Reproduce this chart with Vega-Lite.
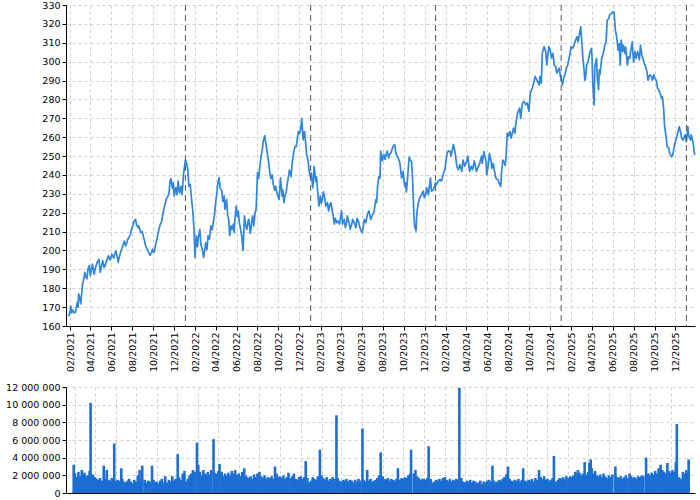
{
"$schema":"https://vega.github.io/schema/vega-lite/v6.json",
"padding":{"left":5,"top":0,"right":5,"bottom":5},
"config":{
 "locale":{"number":{"decimal":",","thousands":" ","grouping":[3],"currency":["",""]}},
 "font":"DejaVu Sans",
 "view":{"stroke":null},
 "axis":{"labelFont":"DejaVu Sans","labelFontSize":9.5,"labelColor":"#000","domainColor":"#000","tickColor":"#000","gridColor":"#cfcfcf","gridDash":[3,3],"tickSize":4,"labelPadding":2,"title":null,"labelFlush":false,"labelOverlap":false,"labelBound":false}
},
"datasets":{
"years":[{"t":"2022-01-03"},{"t":"2023-01-03"},{"t":"2024-01-02"},{"t":"2025-01-02"},{"t":"2026-01-02"}],
"price":[
{"t":"2021-01-28","p":166.5},{"t":"2021-01-29","p":165.5},{"t":"2021-02-01","p":168},{"t":"2021-02-03","p":170.5},{"t":"2021-02-05","p":167},{"t":"2021-02-09","p":168.5},{"t":"2021-02-12","p":167},{"t":"2021-02-17","p":167.4},{"t":"2021-02-22","p":172.6},{"t":"2021-02-24","p":170},{"t":"2021-02-26","p":177},{"t":"2021-03-02","p":174},{"t":"2021-03-04","p":171.7},{"t":"2021-03-09","p":182},{"t":"2021-03-12","p":184},{"t":"2021-03-16","p":188.4},{"t":"2021-03-19","p":186},{"t":"2021-03-22","p":185},{"t":"2021-03-25","p":190},{"t":"2021-03-29","p":192},{"t":"2021-04-01","p":186.7},{"t":"2021-04-07","p":192.8},{"t":"2021-04-12","p":187.5},{"t":"2021-04-16","p":191},{"t":"2021-04-21","p":193.7},{"t":"2021-04-26","p":195.4},{"t":"2021-04-30","p":188.4},{"t":"2021-05-04","p":192},{"t":"2021-05-07","p":194.6},{"t":"2021-05-11","p":191},{"t":"2021-05-14","p":192},{"t":"2021-05-19","p":195},{"t":"2021-05-24","p":197.2},{"t":"2021-05-28","p":195},{"t":"2021-06-03","p":198},{"t":"2021-06-08","p":196},{"t":"2021-06-14","p":199.8},{"t":"2021-06-18","p":197},{"t":"2021-06-21","p":193.7},{"t":"2021-06-25","p":197},{"t":"2021-06-28","p":199},{"t":"2021-07-02","p":201},{"t":"2021-07-06","p":203.3},{"t":"2021-07-09","p":205},{"t":"2021-07-13","p":202.4},{"t":"2021-07-16","p":204},{"t":"2021-07-19","p":206},{"t":"2021-07-23","p":207},{"t":"2021-07-27","p":208.6},{"t":"2021-07-30","p":211},{"t":"2021-08-04","p":213.9},{"t":"2021-08-06","p":215.5},{"t":"2021-08-11","p":216.5},{"t":"2021-08-13","p":214},{"t":"2021-08-18","p":212.1},{"t":"2021-08-20","p":213},{"t":"2021-08-26","p":209.5},{"t":"2021-08-30","p":210},{"t":"2021-09-02","p":207.8},{"t":"2021-09-06","p":205},{"t":"2021-09-09","p":202.4},{"t":"2021-09-13","p":201},{"t":"2021-09-16","p":199.8},{"t":"2021-09-20","p":198},{"t":"2021-09-22","p":197.5},{"t":"2021-09-27","p":199},{"t":"2021-09-29","p":200.7},{"t":"2021-10-04","p":199},{"t":"2021-10-06","p":200.7},{"t":"2021-10-08","p":203},{"t":"2021-10-12","p":206},{"t":"2021-10-15","p":209},{"t":"2021-10-19","p":212.1},{"t":"2021-10-22","p":214},{"t":"2021-10-26","p":215.6},{"t":"2021-10-28","p":218},{"t":"2021-11-01","p":221.8},{"t":"2021-11-04","p":224},{"t":"2021-11-08","p":227},{"t":"2021-11-11","p":228},{"t":"2021-11-15","p":229.6},{"t":"2021-11-17","p":232},{"t":"2021-11-19","p":236.7},{"t":"2021-11-22","p":238},{"t":"2021-11-26","p":233},{"t":"2021-11-29","p":235.8},{"t":"2021-12-01","p":228.8},{"t":"2021-12-03","p":231},{"t":"2021-12-06","p":233.2},{"t":"2021-12-09","p":229.6},{"t":"2021-12-13","p":236.7},{"t":"2021-12-15","p":232},{"t":"2021-12-17","p":230.5},{"t":"2021-12-21","p":234},{"t":"2021-12-24","p":229.6},{"t":"2021-12-29","p":241.2},
{"t":"2022-01-03","p":247.9},{"t":"2022-01-06","p":246.5},{"t":"2022-01-10","p":243},{"t":"2022-01-13","p":234},{"t":"2022-01-17","p":235},{"t":"2022-01-21","p":227},{"t":"2022-01-25","p":220},{"t":"2022-01-28","p":211.2},{"t":"2022-01-31","p":196.3},{"t":"2022-02-02","p":203},{"t":"2022-02-04","p":207.8},{"t":"2022-02-07","p":202},{"t":"2022-02-09","p":206},{"t":"2022-02-14","p":211.2},{"t":"2022-02-17","p":203.3},{"t":"2022-02-22","p":200},{"t":"2022-02-25","p":196.3},{"t":"2022-03-01","p":201},{"t":"2022-03-03","p":204.2},{"t":"2022-03-07","p":200.5},{"t":"2022-03-10","p":207.8},{"t":"2022-03-14","p":206},{"t":"2022-03-18","p":213},{"t":"2022-03-22","p":211},{"t":"2022-03-25","p":214.7},{"t":"2022-03-29","p":219},{"t":"2022-04-01","p":225.3},{"t":"2022-04-05","p":231},{"t":"2022-04-07","p":235},{"t":"2022-04-11","p":238.6},{"t":"2022-04-14","p":233},{"t":"2022-04-19","p":231.6},{"t":"2022-04-22","p":226},{"t":"2022-04-26","p":228.8},{"t":"2022-04-28","p":221.8},{"t":"2022-05-03","p":227},{"t":"2022-05-06","p":219},{"t":"2022-05-09","p":216.5},{"t":"2022-05-12","p":207.8},{"t":"2022-05-16","p":213},{"t":"2022-05-19","p":211.2},{"t":"2022-05-23","p":214},{"t":"2022-05-25","p":209.5},{"t":"2022-05-27","p":216},{"t":"2022-05-31","p":223.5},{"t":"2022-06-03","p":218},{"t":"2022-06-06","p":220.9},{"t":"2022-06-09","p":215},{"t":"2022-06-13","p":211.2},{"t":"2022-06-16","p":207.8},{"t":"2022-06-20","p":200},{"t":"2022-06-22","p":209},{"t":"2022-06-24","p":218.3},{"t":"2022-06-28","p":213},{"t":"2022-07-01","p":211.2},{"t":"2022-07-05","p":216},{"t":"2022-07-07","p":216.5},{"t":"2022-07-11","p":209},{"t":"2022-07-13","p":211.2},{"t":"2022-07-15","p":215},{"t":"2022-07-18","p":218.3},{"t":"2022-07-21","p":213},{"t":"2022-07-25","p":220},{"t":"2022-07-28","p":221.8},{"t":"2022-08-01","p":241.2},{"t":"2022-08-04","p":238},{"t":"2022-08-08","p":244.7},{"t":"2022-08-11","p":249},{"t":"2022-08-15","p":253.5},{"t":"2022-08-18","p":258},{"t":"2022-08-22","p":260.7},{"t":"2022-08-24","p":258},{"t":"2022-08-26","p":256},{"t":"2022-08-30","p":251},{"t":"2022-09-02","p":247.2},{"t":"2022-09-06","p":241.2},{"t":"2022-09-09","p":238},{"t":"2022-09-13","p":240},{"t":"2022-09-16","p":235},{"t":"2022-09-20","p":232},{"t":"2022-09-23","p":234},{"t":"2022-09-28","p":229.6},{"t":"2022-10-03","p":227},{"t":"2022-10-05","p":232},{"t":"2022-10-07","p":238.4},{"t":"2022-10-12","p":228.8},{"t":"2022-10-14","p":232},{"t":"2022-10-17","p":225.3},{"t":"2022-10-20","p":229},{"t":"2022-10-24","p":231.4},{"t":"2022-10-27","p":235.6},{"t":"2022-10-31","p":240},{"t":"2022-11-02","p":242.6},{"t":"2022-11-07","p":239.1},{"t":"2022-11-10","p":246},{"t":"2022-11-14","p":251.4},{"t":"2022-11-18","p":255},{"t":"2022-11-22","p":255},{"t":"2022-11-25","p":259},{"t":"2022-11-28","p":263},{"t":"2022-12-02","p":262},{"t":"2022-12-06","p":266},{"t":"2022-12-08","p":270},{"t":"2022-12-12","p":258.6},{"t":"2022-12-14","p":262},{"t":"2022-12-16","p":263},{"t":"2022-12-20","p":255.8},{"t":"2022-12-22","p":251},{"t":"2022-12-27","p":247},{"t":"2022-12-29","p":242.6},
{"t":"2023-01-03","p":238.4},{"t":"2023-01-05","p":241},{"t":"2023-01-09","p":233.2},{"t":"2023-01-11","p":237},{"t":"2023-01-13","p":244.4},{"t":"2023-01-18","p":236.5},{"t":"2023-01-20","p":239},{"t":"2023-01-23","p":232.3},{"t":"2023-01-27","p":223.5},{"t":"2023-01-31","p":228.8},{"t":"2023-02-03","p":225},{"t":"2023-02-06","p":227},{"t":"2023-02-09","p":231},{"t":"2023-02-13","p":227.9},{"t":"2023-02-16","p":223.5},{"t":"2023-02-21","p":225.3},{"t":"2023-02-24","p":221},{"t":"2023-02-28","p":224},{"t":"2023-03-03","p":225.3},{"t":"2023-03-08","p":220},{"t":"2023-03-13","p":213.9},{"t":"2023-03-16","p":217},{"t":"2023-03-20","p":214.7},{"t":"2023-03-23","p":215.6},{"t":"2023-03-28","p":213.9},{"t":"2023-04-03","p":221},{"t":"2023-04-06","p":213.9},{"t":"2023-04-11","p":216.5},{"t":"2023-04-14","p":212.1},{"t":"2023-04-18","p":215},{"t":"2023-04-20","p":218.3},{"t":"2023-04-25","p":214.7},{"t":"2023-04-28","p":211.2},{"t":"2023-05-03","p":214},{"t":"2023-05-05","p":216.5},{"t":"2023-05-10","p":214.7},{"t":"2023-05-15","p":212.1},{"t":"2023-05-18","p":217},{"t":"2023-05-22","p":215.6},{"t":"2023-05-25","p":213},{"t":"2023-05-30","p":210.4},{"t":"2023-06-02","p":209.5},{"t":"2023-06-06","p":213},{"t":"2023-06-08","p":216.5},{"t":"2023-06-13","p":214.7},{"t":"2023-06-16","p":218},{"t":"2023-06-19","p":220},{"t":"2023-06-22","p":221},{"t":"2023-06-27","p":216.5},{"t":"2023-07-03","p":219.2},{"t":"2023-07-07","p":221},{"t":"2023-07-12","p":227},{"t":"2023-07-14","p":225.3},{"t":"2023-07-17","p":234},{"t":"2023-07-19","p":236.7},{"t":"2023-07-21","p":239.3},{"t":"2023-07-24","p":238.4},{"t":"2023-07-26","p":252.6},{"t":"2023-07-31","p":247.4},{"t":"2023-08-04","p":250.9},{"t":"2023-08-08","p":248.2},{"t":"2023-08-11","p":251},{"t":"2023-08-14","p":252.6},{"t":"2023-08-18","p":249},{"t":"2023-08-21","p":250.9},{"t":"2023-08-25","p":251.8},{"t":"2023-08-31","p":255.1},{"t":"2023-09-05","p":256},{"t":"2023-09-08","p":252},{"t":"2023-09-11","p":250},{"t":"2023-09-15","p":249.1},{"t":"2023-09-20","p":246.3},{"t":"2023-09-22","p":243},{"t":"2023-09-25","p":238.4},{"t":"2023-09-29","p":241.9},{"t":"2023-10-04","p":234},{"t":"2023-10-06","p":236},{"t":"2023-10-09","p":231},{"t":"2023-10-11","p":235},{"t":"2023-10-13","p":240},{"t":"2023-10-17","p":249.5},{"t":"2023-10-20","p":248},{"t":"2023-10-24","p":247},{"t":"2023-10-27","p":238},{"t":"2023-10-31","p":218.2},{"t":"2023-11-02","p":213},{"t":"2023-11-06","p":210.4},{"t":"2023-11-08","p":218.2},{"t":"2023-11-10","p":222},{"t":"2023-11-13","p":225.3},{"t":"2023-11-17","p":227.9},{"t":"2023-11-22","p":229.6},{"t":"2023-11-27","p":231.4},{"t":"2023-11-30","p":228},{"t":"2023-12-04","p":229.6},{"t":"2023-12-07","p":233.2},{"t":"2023-12-12","p":229.6},{"t":"2023-12-15","p":234},{"t":"2023-12-18","p":238.4},{"t":"2023-12-21","p":231.4},{"t":"2023-12-27","p":232.3},
{"t":"2024-01-02","p":235.8},{"t":"2024-01-05","p":234.9},{"t":"2024-01-10","p":236.7},{"t":"2024-01-15","p":237.5},{"t":"2024-01-19","p":236.7},{"t":"2024-01-24","p":240.2},{"t":"2024-01-29","p":242.8},{"t":"2024-02-01","p":247},{"t":"2024-02-05","p":251.8},{"t":"2024-02-08","p":252.6},{"t":"2024-02-13","p":252.6},{"t":"2024-02-16","p":250},{"t":"2024-02-20","p":253.5},{"t":"2024-02-23","p":256.1},{"t":"2024-02-28","p":251.8},{"t":"2024-03-04","p":244.6},{"t":"2024-03-08","p":242.8},{"t":"2024-03-13","p":245.4},{"t":"2024-03-18","p":241.9},{"t":"2024-03-22","p":247.9},{"t":"2024-03-27","p":244.6},{"t":"2024-04-02","p":247.4},{"t":"2024-04-05","p":250},{"t":"2024-04-10","p":241.9},{"t":"2024-04-15","p":244.6},{"t":"2024-04-19","p":242.8},{"t":"2024-04-24","p":247.4},{"t":"2024-04-30","p":241.9},{"t":"2024-05-06","p":244.6},{"t":"2024-05-10","p":246.3},{"t":"2024-05-15","p":250},{"t":"2024-05-17","p":246.1},{"t":"2024-05-22","p":252.3},{"t":"2024-05-24","p":250},{"t":"2024-05-28","p":247.9},{"t":"2024-05-30","p":240},{"t":"2024-06-03","p":244.4},{"t":"2024-06-07","p":251.4},{"t":"2024-06-12","p":247},{"t":"2024-06-14","p":243.5},{"t":"2024-06-18","p":246.1},{"t":"2024-06-21","p":242.6},{"t":"2024-06-26","p":238.2},{"t":"2024-07-02","p":237.4},{"t":"2024-07-05","p":235.6},{"t":"2024-07-10","p":233.9},{"t":"2024-07-12","p":240.9},{"t":"2024-07-16","p":247.9},{"t":"2024-07-19","p":247},{"t":"2024-07-23","p":245},{"t":"2024-07-25","p":248.8},{"t":"2024-07-29","p":262.1},{"t":"2024-08-01","p":260.4},{"t":"2024-08-06","p":263},{"t":"2024-08-09","p":259.5},{"t":"2024-08-14","p":263},{"t":"2024-08-16","p":264.8},{"t":"2024-08-20","p":262},{"t":"2024-08-23","p":267.4},{"t":"2024-08-28","p":272.8},{"t":"2024-09-03","p":275.4},{"t":"2024-09-06","p":270},{"t":"2024-09-11","p":278.1},{"t":"2024-09-16","p":279},{"t":"2024-09-20","p":277.2},{"t":"2024-09-25","p":278.1},{"t":"2024-09-30","p":273.7},{"t":"2024-10-04","p":283.4},{"t":"2024-10-10","p":286},{"t":"2024-10-15","p":289.5},{"t":"2024-10-18","p":292.2},{"t":"2024-10-23","p":290.4},{"t":"2024-10-30","p":287.7},{"t":"2024-11-01","p":292.2},{"t":"2024-11-05","p":288.6},{"t":"2024-11-08","p":304.4},{"t":"2024-11-13","p":308},{"t":"2024-11-18","p":305.3},{"t":"2024-11-21","p":298.2},{"t":"2024-11-27","p":308},{"t":"2024-12-02","p":305.3},{"t":"2024-12-05","p":301.8},{"t":"2024-12-09","p":304.4},{"t":"2024-12-13","p":298.2},{"t":"2024-12-17","p":297.4},{"t":"2024-12-20","p":293.9},{"t":"2024-12-27","p":296.5},{"t":"2024-12-31","p":292.2},
{"t":"2025-01-06","p":287.7},{"t":"2025-01-09","p":291.2},{"t":"2025-01-13","p":293},{"t":"2025-01-17","p":296.5},{"t":"2025-01-21","p":298.2},{"t":"2025-01-24","p":300.9},{"t":"2025-01-28","p":304.4},{"t":"2025-01-31","p":308},{"t":"2025-02-05","p":307.1},{"t":"2025-02-10","p":309.6},{"t":"2025-02-13","p":311.4},{"t":"2025-02-17","p":313.2},{"t":"2025-02-20","p":310.5},{"t":"2025-02-24","p":314},{"t":"2025-02-28","p":318.6},{"t":"2025-03-03","p":310.5},{"t":"2025-03-06","p":302.6},{"t":"2025-03-10","p":295},{"t":"2025-03-12","p":290.2},{"t":"2025-03-14","p":291.2},{"t":"2025-03-17","p":298.1},{"t":"2025-03-21","p":299.8},{"t":"2025-03-27","p":305.1},{"t":"2025-03-31","p":307},{"t":"2025-04-02","p":302.6},{"t":"2025-04-04","p":288.5},{"t":"2025-04-08","p":277},{"t":"2025-04-10","p":297.4},{"t":"2025-04-15","p":301.8},{"t":"2025-04-17","p":292.2},{"t":"2025-04-21","p":285.1},{"t":"2025-04-23","p":295.6},{"t":"2025-04-25","p":293},{"t":"2025-04-30","p":301.8},{"t":"2025-05-05","p":304.4},{"t":"2025-05-09","p":308.8},{"t":"2025-05-13","p":310.5},{"t":"2025-05-16","p":322},{"t":"2025-05-21","p":322.8},{"t":"2025-05-23","p":324.6},{"t":"2025-05-28","p":325.5},{"t":"2025-06-02","p":326.3},{"t":"2025-06-05","p":326.3},{"t":"2025-06-09","p":316.7},{"t":"2025-06-12","p":314},{"t":"2025-06-16","p":307.9},{"t":"2025-06-17","p":306.1},{"t":"2025-06-20","p":309.6},{"t":"2025-06-23","p":298.1},{"t":"2025-06-26","p":311.4},{"t":"2025-06-30","p":305.3},{"t":"2025-07-02","p":308.8},{"t":"2025-07-07","p":304.4},{"t":"2025-07-09","p":307.9},{"t":"2025-07-14","p":298.1},{"t":"2025-07-17","p":302.6},{"t":"2025-07-21","p":301.8},{"t":"2025-07-24","p":306.1},{"t":"2025-07-28","p":310.5},{"t":"2025-08-01","p":299.8},{"t":"2025-08-05","p":305.3},{"t":"2025-08-08","p":301.8},{"t":"2025-08-13","p":305.3},{"t":"2025-08-18","p":300.9},{"t":"2025-08-21","p":308.8},{"t":"2025-08-25","p":303.5},{"t":"2025-08-28","p":301.8},{"t":"2025-09-01","p":299.1},{"t":"2025-09-05","p":297.4},{"t":"2025-09-09","p":294.7},{"t":"2025-09-12","p":290.2},{"t":"2025-09-17","p":293},{"t":"2025-09-22","p":292.2},{"t":"2025-09-25","p":290.2},{"t":"2025-09-29","p":293},{"t":"2025-10-02","p":291.2},{"t":"2025-10-06","p":290.2},{"t":"2025-10-10","p":285.8},{"t":"2025-10-14","p":284.9},{"t":"2025-10-17","p":283.2},{"t":"2025-10-22","p":280.5},{"t":"2025-10-24","p":281.4},{"t":"2025-10-28","p":274.4},{"t":"2025-10-30","p":266.5},{"t":"2025-11-03","p":261.2},{"t":"2025-11-05","p":258.5},{"t":"2025-11-07","p":255},{"t":"2025-11-12","p":254.1},{"t":"2025-11-14","p":251.4},{"t":"2025-11-20","p":249.6},{"t":"2025-11-24","p":251.4},{"t":"2025-11-28","p":255.8},{"t":"2025-12-02","p":258.5},{"t":"2025-12-05","p":260.4},{"t":"2025-12-09","p":263},{"t":"2025-12-12","p":265.6},{"t":"2025-12-17","p":262.1},{"t":"2025-12-19","p":259.5},{"t":"2025-12-23","p":258.5},{"t":"2025-12-29","p":261.2},{"t":"2026-01-02","p":257.6},{"t":"2026-01-06","p":265.6},{"t":"2026-01-09","p":260.4},{"t":"2026-01-14","p":258.5},{"t":"2026-01-16","p":261.2},{"t":"2026-01-21","p":257.6},{"t":"2026-01-23","p":255},{"t":"2026-01-26","p":250.5}
],
"vol":[
{"t":"2021-01-28","v":3.2e6},{"t":"2021-02-01","v":2.2e6},{"t":"2021-02-06","v":1.8e6},{"t":"2021-02-11","v":2.4e6},{"t":"2021-02-16","v":1.9e6},{"t":"2021-02-21","v":2.6e6},{"t":"2021-02-26","v":2.1e6},
{"t":"2021-03-01","v":2.3e6},{"t":"2021-03-06","v":1.9e6},{"t":"2021-03-11","v":2.0e6},{"t":"2021-03-16","v":2.5e6},{"t":"2021-03-19","v":10.2e6},{"t":"2021-03-22","v":1.8e6},{"t":"2021-03-26","v":2.1e6},
{"t":"2021-04-01","v":1.8e6},{"t":"2021-04-06","v":1.6e6},{"t":"2021-04-11","v":1.5e6},{"t":"2021-04-16","v":1.7e6},{"t":"2021-04-21","v":1.4e6},{"t":"2021-04-27","v":3.1e6},
{"t":"2021-05-01","v":1.6e6},{"t":"2021-05-06","v":2.6e6},{"t":"2021-05-11","v":1.5e6},{"t":"2021-05-16","v":1.4e6},{"t":"2021-05-21","v":1.7e6},{"t":"2021-05-26","v":1.3e6},{"t":"2021-05-28","v":5.6e6},
{"t":"2021-06-01","v":1.3e6},{"t":"2021-06-06","v":1.5e6},{"t":"2021-06-11","v":1.4e6},{"t":"2021-06-18","v":2.8e6},{"t":"2021-06-21","v":1.6e6},{"t":"2021-06-26","v":1.3e6},
{"t":"2021-07-01","v":1.2e6},{"t":"2021-07-06","v":1.4e6},{"t":"2021-07-11","v":1.6e6},{"t":"2021-07-16","v":1.3e6},{"t":"2021-07-21","v":1.1e6},{"t":"2021-07-26","v":1.5e6},
{"t":"2021-08-01","v":1.3e6},{"t":"2021-08-06","v":2.0e6},{"t":"2021-08-11","v":2.6e6},{"t":"2021-08-16","v":1.4e6},{"t":"2021-08-19","v":3.1e6},{"t":"2021-08-26","v":1.5e6},
{"t":"2021-09-01","v":1.2e6},{"t":"2021-09-06","v":1.4e6},{"t":"2021-09-11","v":1.3e6},{"t":"2021-09-17","v":3.1e6},{"t":"2021-09-21","v":1.5e6},{"t":"2021-09-26","v":1.2e6},
{"t":"2021-10-01","v":1.3e6},{"t":"2021-10-06","v":1.1e6},{"t":"2021-10-11","v":1.4e6},{"t":"2021-10-16","v":1.6e6},{"t":"2021-10-21","v":1.2e6},{"t":"2021-10-26","v":1.9e6},
{"t":"2021-11-01","v":1.2e6},{"t":"2021-11-06","v":1.5e6},{"t":"2021-11-11","v":1.3e6},{"t":"2021-11-16","v":1.9e6},{"t":"2021-11-21","v":1.4e6},{"t":"2021-11-26","v":1.6e6},
{"t":"2021-12-02","v":4.4e6},{"t":"2021-12-06","v":1.8e6},{"t":"2021-12-11","v":1.5e6},{"t":"2021-12-17","v":2.2e6},{"t":"2021-12-22","v":2.5e6},{"t":"2021-12-27","v":1.3e6},
{"t":"2022-01-01","v":1.6e6},{"t":"2022-01-06","v":2.0e6},{"t":"2022-01-11","v":2.2e6},{"t":"2022-01-16","v":2.6e6},{"t":"2022-01-21","v":2.4e6},{"t":"2022-01-28","v":5.7e6},
{"t":"2022-02-01","v":3.2e6},{"t":"2022-02-06","v":2.4e6},{"t":"2022-02-11","v":2.0e6},{"t":"2022-02-16","v":2.6e6},{"t":"2022-02-21","v":2.2e6},{"t":"2022-02-26","v":2.0e6},
{"t":"2022-03-01","v":2.4e6},{"t":"2022-03-06","v":2.1e6},{"t":"2022-03-11","v":2.6e6},{"t":"2022-03-18","v":6.1e6},{"t":"2022-03-21","v":2.3e6},{"t":"2022-03-26","v":2.2e6},
{"t":"2022-04-01","v":2.5e6},{"t":"2022-04-05","v":3.3e6},{"t":"2022-04-11","v":2.4e6},{"t":"2022-04-16","v":1.9e6},{"t":"2022-04-21","v":2.2e6},{"t":"2022-04-26","v":2.0e6},
{"t":"2022-05-01","v":2.3e6},{"t":"2022-05-06","v":2.0e6},{"t":"2022-05-11","v":2.5e6},{"t":"2022-05-16","v":2.2e6},{"t":"2022-05-21","v":2.6e6},{"t":"2022-05-26","v":2.1e6},
{"t":"2022-06-01","v":2.2e6},{"t":"2022-06-06","v":1.9e6},{"t":"2022-06-11","v":2.4e6},{"t":"2022-06-17","v":2.8e6},{"t":"2022-06-21","v":2.0e6},{"t":"2022-06-26","v":1.8e6},
{"t":"2022-07-01","v":1.7e6},{"t":"2022-07-06","v":1.9e6},{"t":"2022-07-11","v":1.6e6},{"t":"2022-07-16","v":2.1e6},{"t":"2022-07-21","v":1.8e6},{"t":"2022-07-26","v":2.2e6},
{"t":"2022-08-01","v":2.4e6},{"t":"2022-08-06","v":1.9e6},{"t":"2022-08-11","v":1.7e6},{"t":"2022-08-16","v":2.0e6},{"t":"2022-08-21","v":1.6e6},{"t":"2022-08-26","v":1.8e6},
{"t":"2022-09-01","v":1.7e6},{"t":"2022-09-06","v":1.9e6},{"t":"2022-09-11","v":1.6e6},{"t":"2022-09-16","v":3.0e6},{"t":"2022-09-21","v":2.2e6},{"t":"2022-09-26","v":1.8e6},
{"t":"2022-10-01","v":1.9e6},{"t":"2022-10-06","v":1.7e6},{"t":"2022-10-11","v":2.0e6},{"t":"2022-10-16","v":1.6e6},{"t":"2022-10-21","v":1.8e6},{"t":"2022-10-26","v":2.3e6},
{"t":"2022-11-01","v":1.7e6},{"t":"2022-11-06","v":1.9e6},{"t":"2022-11-11","v":2.2e6},{"t":"2022-11-16","v":1.6e6},{"t":"2022-11-21","v":1.5e6},{"t":"2022-11-26","v":1.8e6},
{"t":"2022-12-01","v":1.9e6},{"t":"2022-12-06","v":1.6e6},{"t":"2022-12-11","v":1.8e6},{"t":"2022-12-16","v":3.6e6},{"t":"2022-12-21","v":1.7e6},{"t":"2022-12-26","v":1.2e6},
{"t":"2023-01-01","v":1.4e6},{"t":"2023-01-06","v":1.8e6},{"t":"2023-01-11","v":1.6e6},{"t":"2023-01-16","v":1.5e6},{"t":"2023-01-21","v":1.9e6},{"t":"2023-01-27","v":4.9e6},
{"t":"2023-02-01","v":2.0e6},{"t":"2023-02-06","v":1.7e6},{"t":"2023-02-11","v":1.5e6},{"t":"2023-02-16","v":1.8e6},{"t":"2023-02-21","v":1.4e6},{"t":"2023-02-26","v":1.6e6},
{"t":"2023-03-01","v":1.5e6},{"t":"2023-03-06","v":1.8e6},{"t":"2023-03-11","v":1.6e6},{"t":"2023-03-17","v":8.8e6},{"t":"2023-03-21","v":1.7e6},{"t":"2023-03-26","v":1.4e6},
{"t":"2023-04-01","v":1.3e6},{"t":"2023-04-06","v":1.5e6},{"t":"2023-04-11","v":1.4e6},{"t":"2023-04-16","v":1.6e6},{"t":"2023-04-21","v":1.3e6},{"t":"2023-04-26","v":1.5e6},
{"t":"2023-05-01","v":1.4e6},{"t":"2023-05-06","v":1.2e6},{"t":"2023-05-11","v":1.5e6},{"t":"2023-05-16","v":1.3e6},{"t":"2023-05-21","v":1.6e6},{"t":"2023-05-26","v":1.4e6},
{"t":"2023-06-02","v":7.3e6},{"t":"2023-06-06","v":1.5e6},{"t":"2023-06-11","v":1.3e6},{"t":"2023-06-16","v":2.6e6},{"t":"2023-06-21","v":1.4e6},{"t":"2023-06-26","v":1.6e6},
{"t":"2023-07-01","v":1.3e6},{"t":"2023-07-06","v":1.4e6},{"t":"2023-07-11","v":1.5e6},{"t":"2023-07-16","v":1.7e6},{"t":"2023-07-21","v":2.0e6},{"t":"2023-07-26","v":4.6e6},
{"t":"2023-08-01","v":1.9e6},{"t":"2023-08-06","v":1.6e6},{"t":"2023-08-11","v":1.5e6},{"t":"2023-08-16","v":1.7e6},{"t":"2023-08-21","v":1.4e6},{"t":"2023-08-26","v":1.6e6},
{"t":"2023-09-01","v":1.5e6},{"t":"2023-09-06","v":1.4e6},{"t":"2023-09-11","v":1.6e6},{"t":"2023-09-15","v":2.8e6},{"t":"2023-09-21","v":1.5e6},{"t":"2023-09-26","v":1.7e6},
{"t":"2023-10-01","v":1.6e6},{"t":"2023-10-06","v":1.8e6},{"t":"2023-10-11","v":1.7e6},{"t":"2023-10-16","v":2.0e6},{"t":"2023-10-21","v":2.2e6},{"t":"2023-10-24","v":4.9e6},
{"t":"2023-11-01","v":2.2e6},{"t":"2023-11-06","v":2.6e6},{"t":"2023-11-11","v":1.9e6},{"t":"2023-11-16","v":1.7e6},{"t":"2023-11-21","v":1.5e6},{"t":"2023-11-26","v":1.6e6},
{"t":"2023-12-01","v":1.6e6},{"t":"2023-12-06","v":1.5e6},{"t":"2023-12-11","v":1.7e6},{"t":"2023-12-15","v":5.3e6},{"t":"2023-12-21","v":1.6e6},{"t":"2023-12-26","v":1.2e6},
{"t":"2024-01-01","v":1.3e6},{"t":"2024-01-06","v":1.5e6},{"t":"2024-01-11","v":1.4e6},{"t":"2024-01-16","v":1.6e6},{"t":"2024-01-21","v":1.4e6},{"t":"2024-01-26","v":1.7e6},
{"t":"2024-02-01","v":1.8e6},{"t":"2024-02-06","v":1.5e6},{"t":"2024-02-11","v":1.4e6},{"t":"2024-02-16","v":1.6e6},{"t":"2024-02-21","v":1.3e6},{"t":"2024-02-26","v":1.5e6},
{"t":"2024-03-01","v":1.4e6},{"t":"2024-03-06","v":1.6e6},{"t":"2024-03-11","v":1.5e6},{"t":"2024-03-15","v":11.9e6},{"t":"2024-03-21","v":1.7e6},{"t":"2024-03-26","v":1.3e6},
{"t":"2024-04-01","v":1.2e6},{"t":"2024-04-06","v":1.4e6},{"t":"2024-04-11","v":1.3e6},{"t":"2024-04-16","v":1.5e6},{"t":"2024-04-21","v":1.2e6},{"t":"2024-04-26","v":1.4e6},
{"t":"2024-05-01","v":1.3e6},{"t":"2024-05-06","v":1.1e6},{"t":"2024-05-11","v":1.2e6},{"t":"2024-05-16","v":1.4e6},{"t":"2024-05-21","v":1.0e6},{"t":"2024-05-26","v":1.3e6},
{"t":"2024-06-01","v":1.2e6},{"t":"2024-06-06","v":1.4e6},{"t":"2024-06-11","v":1.5e6},{"t":"2024-06-16","v":1.3e6},{"t":"2024-06-21","v":3.1e6},{"t":"2024-06-26","v":1.4e6},
{"t":"2024-07-01","v":1.2e6},{"t":"2024-07-06","v":1.3e6},{"t":"2024-07-11","v":1.5e6},{"t":"2024-07-16","v":1.4e6},{"t":"2024-07-21","v":1.6e6},{"t":"2024-07-26","v":1.8e6},
{"t":"2024-08-01","v":2.1e6},{"t":"2024-08-06","v":3.0e6},{"t":"2024-08-11","v":1.6e6},{"t":"2024-08-16","v":1.4e6},{"t":"2024-08-21","v":1.3e6},{"t":"2024-08-26","v":1.5e6},
{"t":"2024-09-01","v":1.4e6},{"t":"2024-09-06","v":1.6e6},{"t":"2024-09-11","v":1.3e6},{"t":"2024-09-16","v":1.5e6},{"t":"2024-09-20","v":2.8e6},{"t":"2024-09-26","v":1.4e6},
{"t":"2024-10-01","v":1.3e6},{"t":"2024-10-06","v":1.5e6},{"t":"2024-10-11","v":1.4e6},{"t":"2024-10-16","v":1.6e6},{"t":"2024-10-21","v":1.3e6},{"t":"2024-10-26","v":1.7e6},
{"t":"2024-11-01","v":1.5e6},{"t":"2024-11-06","v":2.6e6},{"t":"2024-11-11","v":1.8e6},{"t":"2024-11-16","v":1.6e6},{"t":"2024-11-21","v":1.9e6},{"t":"2024-11-26","v":1.5e6},
{"t":"2024-12-01","v":1.6e6},{"t":"2024-12-06","v":1.4e6},{"t":"2024-12-11","v":1.5e6},{"t":"2024-12-16","v":1.7e6},{"t":"2024-12-20","v":4.2e6},{"t":"2024-12-26","v":1.3e6},
{"t":"2025-01-01","v":1.5e6},{"t":"2025-01-06","v":1.7e6},{"t":"2025-01-11","v":1.6e6},{"t":"2025-01-16","v":1.8e6},{"t":"2025-01-21","v":1.6e6},{"t":"2025-01-26","v":1.9e6},
{"t":"2025-02-01","v":1.7e6},{"t":"2025-02-06","v":1.9e6},{"t":"2025-02-11","v":1.8e6},{"t":"2025-02-16","v":2.0e6},{"t":"2025-02-21","v":2.4e6},{"t":"2025-02-26","v":2.2e6},
{"t":"2025-03-01","v":2.6e6},{"t":"2025-03-06","v":2.3e6},{"t":"2025-03-11","v":2.0e6},{"t":"2025-03-16","v":2.2e6},{"t":"2025-03-21","v":3.5e6},{"t":"2025-03-26","v":2.1e6},
{"t":"2025-04-01","v":2.4e6},{"t":"2025-04-04","v":3.4e6},{"t":"2025-04-08","v":3.8e6},{"t":"2025-04-11","v":2.8e6},{"t":"2025-04-16","v":2.2e6},{"t":"2025-04-21","v":2.5e6},{"t":"2025-04-26","v":2.0e6},
{"t":"2025-05-01","v":1.9e6},{"t":"2025-05-06","v":2.1e6},{"t":"2025-05-11","v":1.8e6},{"t":"2025-05-16","v":2.2e6},{"t":"2025-05-21","v":1.9e6},{"t":"2025-05-26","v":1.7e6},
{"t":"2025-06-01","v":2.0e6},{"t":"2025-06-06","v":1.8e6},{"t":"2025-06-11","v":2.1e6},{"t":"2025-06-20","v":3.0e6},{"t":"2025-06-21","v":1.9e6},{"t":"2025-06-26","v":1.8e6},
{"t":"2025-07-01","v":1.7e6},{"t":"2025-07-06","v":1.9e6},{"t":"2025-07-11","v":1.6e6},{"t":"2025-07-16","v":1.8e6},{"t":"2025-07-21","v":2.0e6},{"t":"2025-07-26","v":1.7e6},
{"t":"2025-08-01","v":2.2e6},{"t":"2025-08-06","v":1.9e6},{"t":"2025-08-11","v":1.7e6},{"t":"2025-08-16","v":1.8e6},{"t":"2025-08-21","v":1.6e6},{"t":"2025-08-26","v":1.9e6},
{"t":"2025-09-01","v":1.8e6},{"t":"2025-09-06","v":2.0e6},{"t":"2025-09-11","v":1.9e6},{"t":"2025-09-19","v":4.0e6},{"t":"2025-09-21","v":2.1e6},{"t":"2025-09-26","v":2.2e6},
{"t":"2025-10-01","v":2.0e6},{"t":"2025-10-06","v":2.3e6},{"t":"2025-10-11","v":2.1e6},{"t":"2025-10-16","v":2.5e6},{"t":"2025-10-21","v":2.2e6},{"t":"2025-10-26","v":2.8e6},
{"t":"2025-11-01","v":3.2e6},{"t":"2025-11-06","v":2.6e6},{"t":"2025-11-11","v":2.4e6},{"t":"2025-11-16","v":2.2e6},{"t":"2025-11-21","v":3.4e6},{"t":"2025-11-26","v":2.5e6},
{"t":"2025-12-01","v":2.3e6},{"t":"2025-12-06","v":2.6e6},{"t":"2025-12-11","v":2.4e6},{"t":"2025-12-16","v":3.5e6},{"t":"2025-12-19","v":7.8e6},{"t":"2025-12-26","v":1.8e6},
{"t":"2026-01-01","v":1.6e6},{"t":"2026-01-06","v":2.4e6},{"t":"2026-01-11","v":2.2e6},{"t":"2026-01-16","v":2.6e6},{"t":"2026-01-21","v":2.3e6},{"t":"2026-01-23","v":3.8e6}
]
},
"spacing":10,
"vconcat":[
{
 "width":629,"height":321,
 "layer":[
  {"data":{"name":"price"},
   "mark":{"type":"line","color":"#2f86dc","strokeWidth":1.7,"strokeJoin":"round"},
   "encoding":{
    "x":{"field":"t","type":"temporal",
     "scale":{"domain":[{"year":2021,"month":1,"date":20},{"year":2026,"month":1,"date":27}]},
     "axis":{"format":"%m/%Y","labelAngle":-90,"grid":true,"labelOverlap":false,"labelFlush":false,"tickCount":100,
      "values":[{"year":2021,"month":2,"date":1},{"year":2021,"month":4,"date":1},{"year":2021,"month":6,"date":1},{"year":2021,"month":8,"date":1},{"year":2021,"month":10,"date":1},{"year":2021,"month":12,"date":1},
       {"year":2022,"month":2,"date":1},{"year":2022,"month":4,"date":1},{"year":2022,"month":6,"date":1},{"year":2022,"month":8,"date":1},{"year":2022,"month":10,"date":1},{"year":2022,"month":12,"date":1},
       {"year":2023,"month":2,"date":1},{"year":2023,"month":4,"date":1},{"year":2023,"month":6,"date":1},{"year":2023,"month":8,"date":1},{"year":2023,"month":10,"date":1},{"year":2023,"month":12,"date":1},
       {"year":2024,"month":2,"date":1},{"year":2024,"month":4,"date":1},{"year":2024,"month":6,"date":1},{"year":2024,"month":8,"date":1},{"year":2024,"month":10,"date":1},{"year":2024,"month":12,"date":1},
       {"year":2025,"month":2,"date":1},{"year":2025,"month":4,"date":1},{"year":2025,"month":6,"date":1},{"year":2025,"month":8,"date":1},{"year":2025,"month":10,"date":1},{"year":2025,"month":12,"date":1}]}},
    "y":{"field":"p","type":"quantitative",
     "scale":{"domain":[160,330],"nice":false,"zero":false},
     "axis":{"grid":true,"labelOverlap":false,"tickCount":100,"values":[160,170,180,190,200,210,220,230,240,250,260,270,280,290,300,310,320,330]}}
   }},
  {"data":{"name":"years"},
   "mark":{"type":"rule","color":"#555555","strokeDash":[6,4],"strokeWidth":1},
   "encoding":{"x":{"field":"t","type":"temporal"}}}
 ]
},
{
 "width":629,"height":106,
 "data":{"name":"vol"},
 "mark":{"type":"bar","color":"#1c6ed2","size":2.6,"opacity":1},
 "encoding":{
  "x":{"field":"t","type":"temporal",
   "scale":{"domain":[{"year":2021,"month":1,"date":20},{"year":2026,"month":1,"date":27}]},
   "axis":{"labels":false,"ticks":false,"grid":true,"tickCount":100,
    "values":[{"year":2021,"month":2,"date":1},{"year":2021,"month":4,"date":1},{"year":2021,"month":6,"date":1},{"year":2021,"month":8,"date":1},{"year":2021,"month":10,"date":1},{"year":2021,"month":12,"date":1},
       {"year":2022,"month":2,"date":1},{"year":2022,"month":4,"date":1},{"year":2022,"month":6,"date":1},{"year":2022,"month":8,"date":1},{"year":2022,"month":10,"date":1},{"year":2022,"month":12,"date":1},
       {"year":2023,"month":2,"date":1},{"year":2023,"month":4,"date":1},{"year":2023,"month":6,"date":1},{"year":2023,"month":8,"date":1},{"year":2023,"month":10,"date":1},{"year":2023,"month":12,"date":1},
       {"year":2024,"month":2,"date":1},{"year":2024,"month":4,"date":1},{"year":2024,"month":6,"date":1},{"year":2024,"month":8,"date":1},{"year":2024,"month":10,"date":1},{"year":2024,"month":12,"date":1},
       {"year":2025,"month":2,"date":1},{"year":2025,"month":4,"date":1},{"year":2025,"month":6,"date":1},{"year":2025,"month":8,"date":1},{"year":2025,"month":10,"date":1},{"year":2025,"month":12,"date":1}]}},
  "y":{"field":"v","type":"quantitative",
   "scale":{"domain":[0,12000000],"nice":false},
   "axis":{"grid":true,"format":",d","labelOverlap":false,"values":[0,2000000,4000000,6000000,8000000,10000000,12000000]}}
 }
}
]
}
